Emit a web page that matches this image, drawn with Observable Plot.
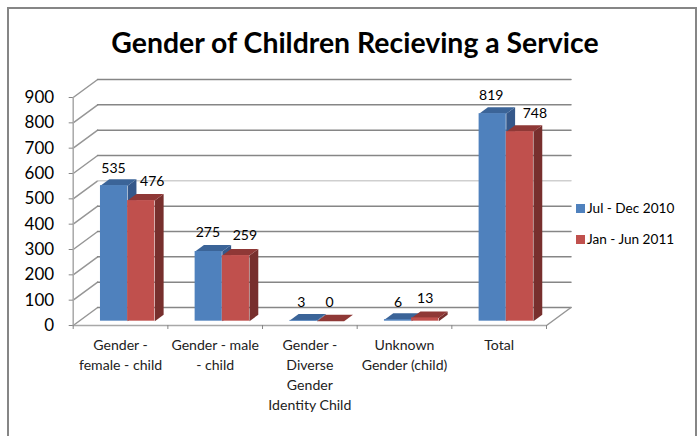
<!DOCTYPE html>
<html>
<head>
<meta charset="utf-8">
<script src="https://cdn.jsdelivr.net/npm/d3@7"></script>
<script src="https://cdn.jsdelivr.net/npm/@observablehq/plot@0.6"></script>
<style>
  html, body { margin: 0; padding: 0; background: #fff; }
  #chart { position: relative; width: 697px; height: 436px; overflow: hidden; font-family: Lato, sans-serif; color: #000; }
  #frame { position: absolute; left: 7px; top: 7px; width: 686px; height: 440px; border: 2px solid #868686; box-sizing: content-box; pointer-events: none; }
  #title { position: relative; height: 62px; line-height: 84px; margin: 0; padding-left: 13px; text-align: center; font-size: 28.4px; font-weight: 700; white-space: nowrap; }
  #plot svg { display: block; }
  #legend { position: absolute; left: 576px; top: 198px; font-size: 13.6px; }
  .row { display: flex; align-items: center; height: 20px; margin-bottom: 11px; white-space: nowrap; }
  .swatch { width: 9px; height: 9px; margin-right: 2px; }
</style>
</head>
<body>
<div id="chart">
  <div id="frame"></div>
  <div id="title"></div>
  <div id="plot"></div>
  <div id="legend"></div>
</div>
<script>
const titleText = "Gender of Children Recieving a Service";
const categories = ["Gender -\nfemale - child", "Gender - male\n- child", "Gender -\nDiverse\nGender\nIdentity Child", "Unknown\nGender (child)", "Total"];
const seriesNames = ["Jul - Dec 2010", "Jan - Jun 2011"];
const julDec2010 = [535, 275, 3, 6, 819];
const janJun2011 = [476, 259, 0, 13, 748];
const yTicks = [0, 100, 200, 300, 400, 500, 600, 700, 800, 900];

// Fake 3D projection, expressed in data units so everything goes through the scales
const depthX = 24.5 / 94.7;
const depthY = 18 / 0.2533;
const project = (c, v, d) => ({x: c + d * depthX, y: v + d * depthY});
const barStart = 0.226, barWidth = 0.287, depthFront = 0.24, depthBack = 0.6;

const palette = [
  {front: "#4F81BD", side: "#35588A", top: "#3B6498"},
  {front: "#C0504D", side: "#772F2D", top: "#8F3836"}
];

function faces(values, s) {
  const side = [], top = [], front = [];
  values.forEach((v, i) => {
    const a = i + barStart + s * barWidth, b = a + barWidth;
    [[b,0,depthFront],[b,v,depthFront],[b,v,depthBack],[b,0,depthBack]].forEach(p => side.push({...project(...p), id: i}));
    [[a,v,depthFront],[b,v,depthFront],[b,v,depthBack],[a,v,depthBack]].forEach(p => top.push({...project(...p), id: i}));
    const lo = project(a, 0, depthFront), hi = project(b, v, depthFront);
    front.push({x1: lo.x, x2: hi.x, y1: lo.y, y2: hi.y});
  });
  return {side, top, front};
}

const polygon = (rows, fill) => Plot.line(rows, {x: "x", y: "y", z: "id", fill, stroke: "none", curve: "linear-closed"});
const barMarks = [julDec2010, janJun2011].flatMap((vals, s) => {
  const f = faces(vals, s);
  return [
    polygon(f.side, palette[s].side),
    polygon(f.top, palette[s].top),
    Plot.rect(f.front, {x1: "x1", x2: "x2", y1: "y1", y2: "y2", fill: palette[s].front})
  ];
});

// Per-label pixel nudges, as the original chart placed them by hand
const nudgeA = [[-0.5,-17.6],[-0.8,-19],[-2,-18.3],[0,-17.5],[-1.5,-18]];
const nudgeB = [[11,-19.3],[9,-20],[-1,-19],[0,-19.4],[15,-17.7]];
const labelMarks = [julDec2010, janJun2011].flatMap((vals, s) => vals.map((v, i) => {
  const n = (s ? nudgeB : nudgeA)[i];
  const p = project(i + barStart + (s + 0.5) * barWidth, v, depthFront);
  return Plot.text([String(v)], {x: () => p.x, y: () => p.y, text: d => d, dx: n[0], dy: n[1], fontSize: 14, fill: "#000"});
}));

const wallLines = yTicks.map(v => [project(0, v, 0), project(0, v, 1)]);
const backLines = yTicks.map(v => [project(0, v, 1), project(5, v, 1)]);
const seg = (rows, stroke, w) => Plot.line(rows, {x: "x", y: "y", stroke, strokeWidth: w});

const chart = Plot.plot({
  width: 697,
  height: 374,
  marginLeft: 72.7,
  marginRight: 151,
  marginTop: 35,
  marginBottom: 111,
  style: {background: "transparent", fontFamily: "Lato, sans-serif"},
  x: {type: "linear", domain: [0, 5]},
  y: {type: "linear", domain: [0, 900]},
  marks: [
    ...wallLines.map(l => seg(l, "#969696", 1.5)),
    ...backLines.map((l, i) => seg(l, yTicks[i] === 500 ? "#cfcfcf" : "#868686", 1.5)),
    seg([project(5, 0, 0), project(5, 0, 1)], "#969696", 1.5),
    Plot.ruleX([0], {y1: 0, y2: 900, stroke: "#a8a8a8", strokeWidth: 1.5}),
    Plot.ruleY([0], {x1: 0, x2: 5, stroke: "#a8a8a8", strokeWidth: 1.5}),
    Plot.axisY({ticks: yTicks, tickSize: 4, tickPadding: 15, stroke: "#868686", fill: "#000", fontSize: 17, label: null}),
    Plot.axisX({ticks: d3.range(0, 6), tickSize: 4, tickFormat: () => "", stroke: "#868686", label: null}),
    Plot.text(categories, {x: (d, i) => i + 0.5, y: () => 0, text: d => d, dy: 10.5, lineAnchor: "top", lineHeight: 1.41, fontSize: 14.1, fill: "#222"}),
    ...barMarks,
    ...labelMarks
  ]
});

document.getElementById("plot").appendChild(chart);
document.getElementById("title").textContent = titleText;
const legend = document.getElementById("legend");
seriesNames.forEach((name, s) => {
  const row = document.createElement("div");
  row.className = "row";
  const sw = document.createElement("div");
  sw.className = "swatch";
  sw.style.background = palette[s].front;
  const t = document.createElement("span");
  t.textContent = name;
  row.append(sw, t);
  legend.appendChild(row);
});
</script>
</body>
</html>
